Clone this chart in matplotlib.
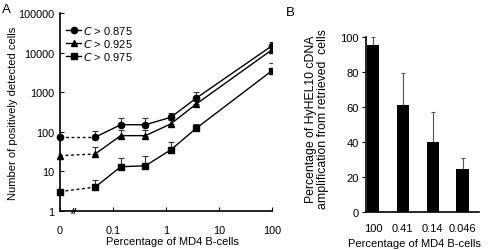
import matplotlib
matplotlib.use('Agg')
import matplotlib.pyplot as plt
import numpy as np

plt.rcParams['font.family'] = ['Liberation Sans', 'DejaVu Sans']
plt.rcParams['font.size'] = 8

# Panel A data
pct = [0, 0.046, 0.14, 0.41, 1.23, 3.7, 100]
c0875 = [73, 73, 151, 151, 232, 705, 14900]
c0875_err = [0, 32, 72, 72, 72, 295, 3600]
c0925 = [25, 27.5, 80, 80, 158, 500, 11800]
c0925_err = [0, 14, 30, 30, 40, 110, 1800]
c0975 = [3.1, 4.0, 13.1, 13.9, 35, 122, 3500]
c0975_err = [0, 2.2, 9, 11, 21, 36, 2000]
labels_a = ['0.875', '0.925', '0.975']

# Panel B data
bar_labels = ['100', '0.41', '0.14', '0.046']
bar_vals = [95, 61, 40, 24.5]
bar_err = [4.7, 18.6, 17, 6.5]

fig = plt.figure(figsize=(4.88, 2.51), dpi=100)

# ---- Panel A ----
ax = fig.add_axes([60/488, 1 - 212/251, 212/488, 198/251])
ax.set_xscale('log')
ax.set_yscale('log')
ax.set_xlim(0.01, 100)
ax.set_ylim(1, 100000)

xs = [0.01 if p == 0 else p for p in pct]
series = [(c0875, c0875_err, 'o', 4.5), (c0925, c0925_err, '^', 4.5), (c0975, c0975_err, 's', 5)]
for (ys, err, mk, ms), lab in zip(series, labels_a):
    ax.errorbar(xs[1:], ys[1:], yerr=[np.zeros(len(err) - 1), err[1:]], fmt='none',
                ecolor='#333333', elinewidth=0.8, capsize=2, capthick=0.8, zorder=2)
    ax.plot(xs[:2], ys[:2], ls=(0, (2, 2)), color='black', lw=1, zorder=3)
    ax.plot(xs[1:], ys[1:], ls='-', color='black', lw=1, marker=mk, ms=ms, zorder=4,
            label=f'$C$ > {lab}')
    ax.plot(xs[0], ys[0], marker=mk, ms=ms, color='black', zorder=4, clip_on=False)

ax.set_xticks([0.01, 0.1, 1, 10, 100])
ax.set_xticklabels(['0', '0.1', '1', '10', '100'])
ax.xaxis.set_minor_locator(matplotlib.ticker.NullLocator())
ax.yaxis.set_minor_locator(matplotlib.ticker.NullLocator())
ax.set_yticks([1, 10, 100, 1000, 10000, 100000])
ax.set_yticklabels(['1', '10', '100', '1000', '10000', '100000'])
ax.tick_params(direction='in', length=3, width=0.8, labelsize=7.8)
ax.tick_params(axis='y', pad=4)
ax.tick_params(axis='x', pad=10)
ax.spines['top'].set_visible(False)
ax.spines['right'].set_visible(False)
for s in ['left', 'bottom']:
    ax.spines[s].set_linewidth(1.2)

# axis break mark
for dx in (-0.006, 0.004):
    ax.plot([0.062 + dx, 0.07 + dx], [-0.012, 0.012], transform=ax.transAxes,
            color='black', lw=0.8, clip_on=False)

ax.set_xlabel('Percentage of MD4 B-cells', fontsize=8)
ax.xaxis.set_label_coords(0.53, -0.128)
ax.set_ylabel('Number of positively detected cells', fontsize=8)
ax.yaxis.set_label_coords(-0.2, 0.5)

leg = ax.legend(loc='upper left', bbox_to_anchor=(0.03, 0.945), frameon=False,
                fontsize=8, handlelength=1.3, handletextpad=0.2, labelspacing=0.1,
                borderaxespad=0, borderpad=0)

fig.text(2/488, 1 - 10/251, 'A', fontsize=9.5, va='center', ha='left')

# ---- Panel B ----
bx = fig.add_axes([366/488, 1 - 213.3/251, 113/488, 175.6/251])
pos = np.arange(len(bar_vals))
bx.bar(pos, bar_vals, width=0.41, color='black', zorder=3)
bx.errorbar(pos, bar_vals, yerr=[np.zeros(len(bar_err)), bar_err], fmt='none',
            ecolor='#555555', elinewidth=0.8, capsize=1.5, capthick=0.8, zorder=2)
bx.set_xlim(-0.23, 3.55)
bx.set_ylim(0, 100)
bx.set_yticks([0, 20, 40, 60, 80, 100])
bx.set_xticks(pos)
bx.set_xticklabels(bar_labels)
bx.tick_params(axis='y', direction='out', length=3, width=0.8, labelsize=8, pad=2)
bx.tick_params(axis='x', length=0, labelsize=8, pad=8)
bx.spines['top'].set_visible(False)
bx.spines['right'].set_visible(False)
for s in ['left', 'bottom']:
    bx.spines[s].set_linewidth(1.2)
bx.set_xlabel('Percentage of MD4 B-cells', fontsize=8)
bx.xaxis.set_label_coords(0.43, -0.148)
bx.set_ylabel('Percentage of HyHEL10 cDNA\namplification from retrieved  cells',
              fontsize=8.8, linespacing=0.95)
bx.yaxis.set_label_coords(-0.33, 0.535)

fig.text(290/488, 1 - 13/251, 'B', fontsize=9.5, va='center', ha='center')

fig.savefig('out.png', dpi=100)
